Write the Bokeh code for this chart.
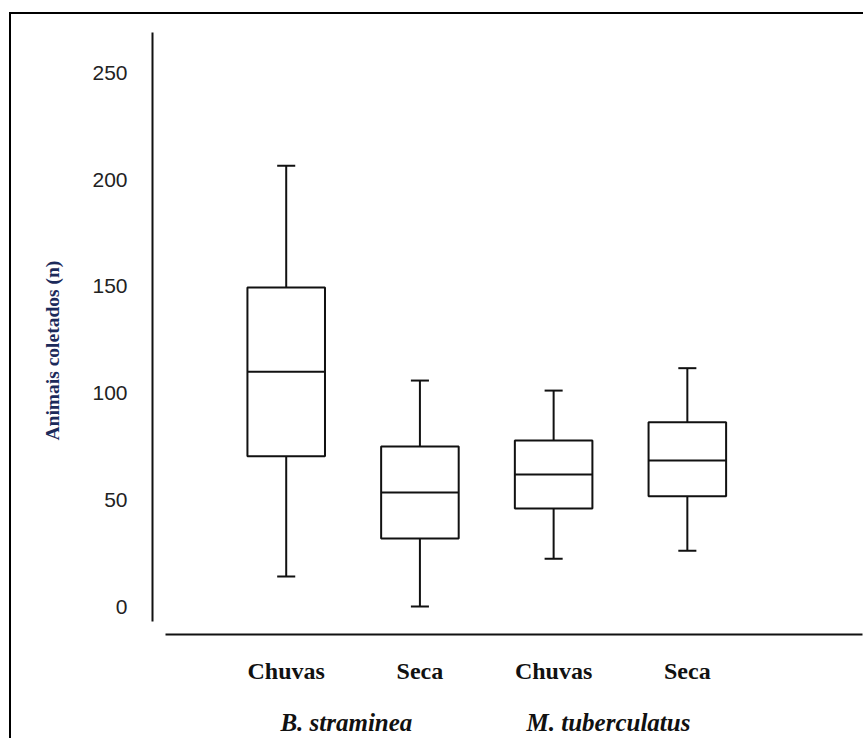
from bokeh.plotting import figure
from bokeh.models import Range1d, FixedTicker, LinearAxis, ColumnDataSource, Title
from bokeh.embed import file_html
from bokeh.resources import INLINE

# ---- data ----
conditions = ["Chuvas", "Seca", "Chuvas", "Seca"]
species = ["B. straminea", "M. tuberculatus"]
lower = [14.1, 0.0, 22.4, 26.2]
q1 = [70.4, 31.9, 45.9, 51.7]
median = [110.0, 53.4, 61.9, 68.4]
q3 = [149.5, 75.0, 77.8, 86.4]
upper = [206.5, 105.9, 101.2, 111.7]
y_ticks = [0, 50, 100, 150, 200, 250]
y_title = "Animais coletados (n)"

# ---- layout / style ----
pos = [1, 2, 3, 4]
box_w = 0.58
cap_w = 0.135
species_pos = [1.45, 3.41]
ink = "#111111"

src = ColumnDataSource(dict(
    x=pos, lower=lower, q1=q1, median=median, q3=q3, upper=upper,
    bl=[x - box_w / 2 for x in pos], br=[x + box_w / 2 for x in pos],
    cl=[x - cap_w / 2 for x in pos], cr=[x + cap_w / 2 for x in pos],
))

p = figure(frame_width=710, frame_height=602,
           min_border_left=141, min_border_top=18, min_border_right=1, min_border_bottom=104,
           x_range=Range1d(0, 5.31), y_range=Range1d(-13.1, 269.0),
           x_axis_type=None, y_axis_type=None,
           output_backend="svg", toolbar_location=None)
p.outline_line_color = None
p.background_fill_color = "white"
p.border_fill_color = "white"
p.styles = {"border-left": "2px solid #000", "border-top": "2px solid #000",
            "margin-left": "9px", "margin-top": "12px"}

# y axis
yaxis = LinearAxis(ticker=FixedTicker(ticks=y_ticks), bounds=(-7.0, 269.0))
yaxis.axis_line_width = 2
yaxis.axis_line_color = ink
yaxis.major_tick_line_color = None
yaxis.minor_tick_line_color = None
yaxis.major_tick_out = 0
yaxis.minor_tick_out = 0
yaxis.major_label_standoff = 25
yaxis.major_label_text_font = "Liberation Sans"
yaxis.major_label_text_font_size = "21px"
yaxis.major_label_text_color = "#222222"
p.add_layout(yaxis, "left")

# y title
p.add_layout(Title(text=y_title, align="left", offset=194, standoff=53,
                   text_font="Liberation Serif", text_font_style="bold",
                   text_font_size="19.5px", text_color="#1c2a5a"), "left")

# x axis (conditions)
xaxis = LinearAxis(ticker=FixedTicker(ticks=pos), bounds=(0.097, 5.31),
                   major_label_overrides={x: c for x, c in zip(pos, conditions)})
xaxis.axis_line_width = 2
xaxis.axis_line_color = ink
xaxis.major_tick_line_color = None
xaxis.minor_tick_line_color = None
xaxis.major_tick_out = 0
xaxis.minor_tick_out = 0
xaxis.major_label_standoff = 23
xaxis.major_label_text_font = "Liberation Serif"
xaxis.major_label_text_font_style = "bold"
xaxis.major_label_text_font_size = "24px"
xaxis.major_label_text_color = ink
p.add_layout(xaxis, "below")

# species axis
gaxis = LinearAxis(ticker=FixedTicker(ticks=species_pos),
                   major_label_overrides={x: s for x, s in zip(species_pos, species)})
gaxis.axis_line_color = None
gaxis.major_tick_line_color = None
gaxis.minor_tick_line_color = None
gaxis.major_tick_out = 0
gaxis.minor_tick_out = 0
gaxis.major_label_standoff = 22
gaxis.major_label_text_font = "Liberation Serif"
gaxis.major_label_text_font_style = "bold italic"
gaxis.major_label_text_font_size = "25px"
gaxis.major_label_text_color = ink
p.add_layout(gaxis, "below")

# boxes
p.segment(x0="x", y0="q3", x1="x", y1="upper", line_color=ink, line_width=2, source=src)
p.segment(x0="x", y0="lower", x1="x", y1="q1", line_color=ink, line_width=2, source=src)
p.segment(x0="cl", y0="upper", x1="cr", y1="upper", line_color=ink, line_width=2, source=src)
p.segment(x0="cl", y0="lower", x1="cr", y1="lower", line_color=ink, line_width=2, source=src)
p.vbar(x="x", width=box_w, bottom="q1", top="q3", fill_color="white",
       line_color=ink, line_width=2, source=src)
p.segment(x0="bl", y0="median", x1="br", y1="median", line_color=ink, line_width=2, source=src)

open("out.html", "w").write(file_html(p, INLINE))
